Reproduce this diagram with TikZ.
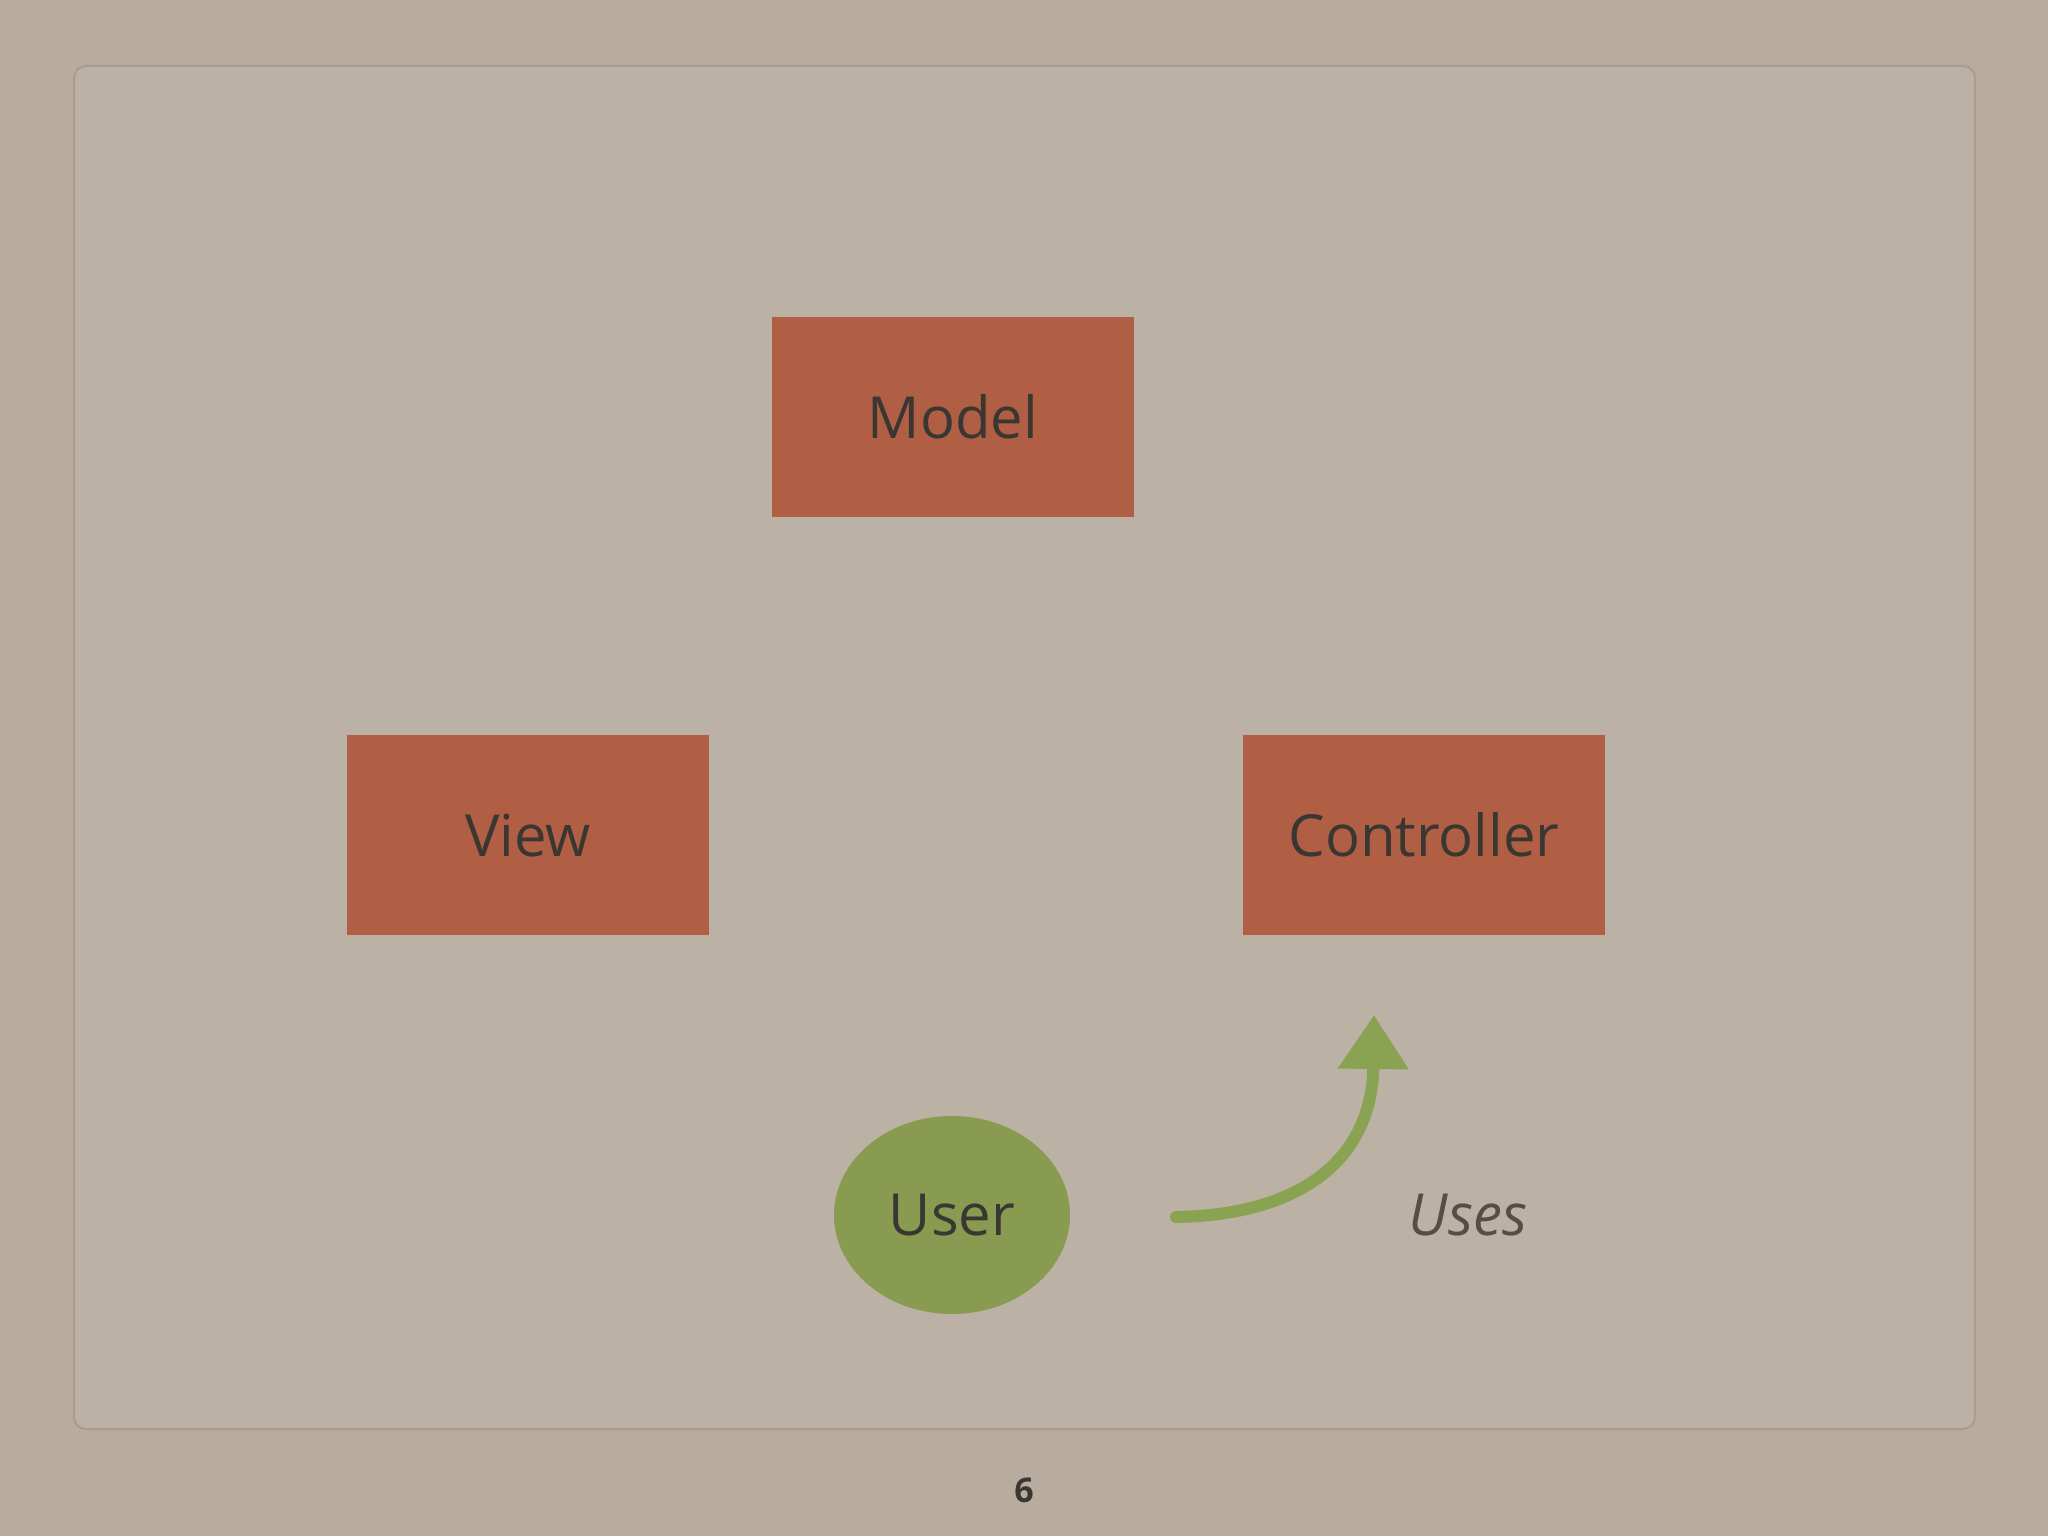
\documentclass[tikz,border=0pt]{standalone}
\usepackage{fontspec}
\setmainfont{Open Sans}
\usetikzlibrary{arrows.meta,shapes.geometric}
\definecolor{paper}{HTML}{B8AC9F}
\definecolor{paperin}{HTML}{BCB1A5}
\definecolor{frameline}{HTML}{A89C8F}
\definecolor{boxred}{HTML}{B05F45}
\definecolor{usergreen}{HTML}{889B50}
\definecolor{arrowgreen}{HTML}{8AA352}
\definecolor{ink}{HTML}{3A3632}
\tikzset{
  mvcbox/.style={draw=none, fill=boxred, minimum width=181pt, minimum height=100pt, inner sep=0pt,
    text=ink, font=\fontsize{29}{34}\selectfont},
  userell/.style={ellipse, fill=usergreen, minimum width=118pt, minimum height=99pt, inner sep=0pt,
    text=ink, font=\fontsize{29}{34}\selectfont},
  useslabel/.style={text=ink!80!paper, font=\fontsize{29}{34}\selectfont\itshape},
  usesarrow/.style={draw=arrowgreen, line width=6pt, line cap=round,
    -{Triangle[width=34pt,length=27pt]}},
}
\begin{document}
\begin{tikzpicture}[x=0.5pt,y=-0.5pt]
\useasboundingbox (0,0) rectangle (2048,1536);
\fill[paper] (0,0) rectangle (2048,1536);
\draw[frameline, fill=paperin, line width=1pt, rounded corners=6pt] (74,66) rectangle (1975,1429);
\node[mvcbox] (model) at (953,417) {Model};
\node[mvcbox] (view) at (528,835) {View};
\node[mvcbox] (ctrl) at (1424,835) {Controller};
\node[userell] (user) at (952,1215) {User};
\coordinate (astart) at (1176,1217);
\coordinate (atip) at (1374,1015);
\draw[usesarrow] (astart) .. controls (1300,1215) and (1372,1160) .. (atip);
\node[useslabel] (uses) at (1468,1215) {Uses};
\node[text=ink, font=\fontsize{17}{20}\selectfont\bfseries] (pnum) at (1024,1490) {6};
\end{tikzpicture}
\end{document}
